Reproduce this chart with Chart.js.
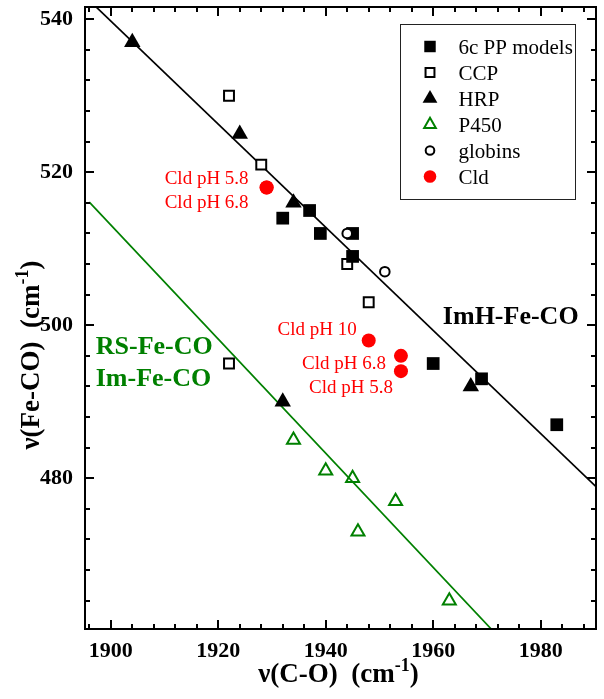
<!DOCTYPE html>
<html>
<head>
<meta charset="utf-8">
<script src="https://cdn.jsdelivr.net/npm/chart.js@4.4.0/dist/chart.umd.min.js"></script>
<style>
  html, body { margin: 0; padding: 0; background: #fff; }
  #wrap { width: 604px; height: 699px; }
</style>
</head>
<body>
<div id="wrap"><canvas id="chart" width="604" height="699"></canvas></div>
<script>
// values
const ppModelsX = [1932, 1937, 1939, 1945, 1945, 1960, 1969, 1983];
const ppModelsY = [514, 515, 512, 512, 509, 495, 493, 487];
const ccpX = [1922, 1928, 1922, 1944, 1948];
const ccpY = [530, 521, 495, 508, 503];
const hrpX = [1904, 1924, 1934, 1932, 1967];
const hrpY = [537, 525, 516, 490, 492];
const p450X = [1934, 1940, 1945, 1953, 1946, 1963];
const p450Y = [485, 481, 480, 477, 473, 464];
const globinsX = [1944, 1951];
const globinsY = [512, 507];
const cldX = [1929, 1929, 1948, 1954, 1954];
const cldY = [518, 518, 498, 496, 494];
const cldLabels = ['Cld pH 5.8', 'Cld pH 6.8', 'Cld pH 10', 'Cld pH 6.8', 'Cld pH 5.8'];

// fitted correlation lines (end points)
const imhLineX = [1895.2, 1990.3];
const imhLineY = [543.0, 478.9];
const rsLineX = [1896, 1972];
const rsLineY = [516.1, 459.4];

const xMajorTicks = [1900, 1920, 1940, 1960, 1980];
const yMajorTicks = [480, 500, 520, 540];
const minorStep = 4;

const SERIF = '"Liberation Serif", "Times New Roman", serif';
const GREEN = '#008000';
const RED = '#ff0000';

const toPoints = (xs, ys) => xs.map((v, i) => ({ x: v, y: ys[i] }));

const stepTicks = (scale, majors) => {
  const ticks = [];
  for (let v = Math.ceil(scale.min / minorStep) * minorStep; v <= scale.max; v += minorStep) {
    ticks.push({ value: v, major: majors.includes(v) });
  }
  scale.ticks = ticks;
};

// fixed axis box sizes, no extra label overhang padding
const fixBox = (scale, size) => {
  if (scale.isHorizontal()) scale.height = size; else scale.width = size;
  scale.paddingTop = scale.paddingBottom = scale.paddingLeft = scale.paddingRight = 0;
};

// frame + inward tick marks on all four sides
const frameTicks = {
  id: 'frameTicks',
  afterDatasetsDraw(chart) {
    const { ctx, chartArea: a, scales: { x, y } } = chart;
    ctx.save();
    ctx.strokeStyle = '#000';
    ctx.lineWidth = 2;
    ctx.strokeRect(a.left, a.top, a.right - a.left, a.bottom - a.top);
    ctx.beginPath();
    x.ticks.forEach(t => {
      const px = Math.round(x.getPixelForValue(t.value));
      const len = xMajorTicks.includes(t.value) ? 9 : 5;
      ctx.moveTo(px, a.bottom); ctx.lineTo(px, a.bottom - len);
      ctx.moveTo(px, a.top); ctx.lineTo(px, a.top + len);
    });
    y.ticks.forEach(t => {
      const py = Math.round(y.getPixelForValue(t.value));
      const len = yMajorTicks.includes(t.value) ? 9 : 5;
      ctx.moveTo(a.left, py); ctx.lineTo(a.left + len, py);
      ctx.moveTo(a.right, py); ctx.lineTo(a.right - len, py);
    });
    ctx.stroke();
    ctx.restore();
  }
};

function drawParts(ctx, parts, cx, baseline) {
  let total = 0;
  parts.forEach(p => { ctx.font = p.font; total += ctx.measureText(p.text).width; });
  let x = cx - total / 2;
  parts.forEach(p => {
    ctx.font = p.font;
    ctx.fillText(p.text, x, baseline + (p.dy || 0));
    x += ctx.measureText(p.text).width;
  });
}

// axis titles with superscript, and text notes
const notes = {
  id: 'notes',
  afterDraw(chart) {
    const { ctx, chartArea: a, scales: { x, y } } = chart;
    const big = 'bold 27px ' + SERIF;
    const sup = 'bold 18px ' + SERIF;
    ctx.save();
    ctx.fillStyle = '#000';
    ctx.textAlign = 'left';
    ctx.textBaseline = 'alphabetic';
    drawParts(ctx, [
      { text: 'ν(C-O)  (cm', font: big },
      { text: '-1', font: sup, dy: -11 },
      { text: ')', font: big }
    ], (a.left + a.right) / 2 - 2, 682);

    ctx.save();
    ctx.translate(38.5, 355);
    ctx.rotate(-Math.PI / 2);
    drawParts(ctx, [
      { text: 'ν(Fe-CO)  (cm', font: big },
      { text: '-1', font: sup, dy: -11 },
      { text: ')', font: big }
    ], 0, 0);
    ctx.restore();

    // line labels
    ctx.font = 'bold 26px ' + SERIF;
    ctx.fillStyle = '#000';
    ctx.fillText('ImH-Fe-CO', x.getPixelForValue(1961.8), y.getPixelForValue(500.2));
    ctx.fillStyle = GREEN;
    ctx.fillText('RS-Fe-CO', x.getPixelForValue(1897.2), y.getPixelForValue(496.3));
    ctx.fillText('Im-Fe-CO', x.getPixelForValue(1897.2), y.getPixelForValue(492.0));

    // Cld point labels, right aligned next to their points
    const offsets = [[-18, -4], [-18, 20], [-12, -6], [-15, 13], [-8, 22]];
    ctx.font = '19px ' + SERIF;
    ctx.fillStyle = RED;
    ctx.textAlign = 'right';
    cldLabels.forEach((label, i) => {
      const px = x.getPixelForValue(cldX[i]);
      const py = y.getPixelForValue(cldY[i]);
      ctx.fillText(label, px + offsets[i][0], py + offsets[i][1]);
    });
    ctx.restore();
  }
};

function drawMarker(ctx, ds, cx, cy, scale) {
  const r = ds.pointRadius * scale;
  ctx.save();
  ctx.fillStyle = ds.pointBackgroundColor;
  ctx.strokeStyle = ds.pointBorderColor;
  ctx.lineWidth = ds.pointBorderWidth;
  ctx.beginPath();
  if (ds.pointStyle === 'rect') {
    const s = Math.SQRT1_2 * r;
    ctx.rect(cx - s, cy - s, 2 * s, 2 * s);
  } else if (ds.pointStyle === 'triangle') {
    let ang = 0;
    ctx.moveTo(cx + Math.sin(ang) * r, cy - Math.cos(ang) * r);
    ang += 2 * Math.PI / 3;
    ctx.lineTo(cx + Math.sin(ang) * r, cy - Math.cos(ang) * r);
    ang += 2 * Math.PI / 3;
    ctx.lineTo(cx + Math.sin(ang) * r, cy - Math.cos(ang) * r);
    ctx.closePath();
  } else {
    ctx.arc(cx, cy, r, 0, Math.PI * 2);
  }
  ctx.fill();
  if (ds.pointBorderWidth > 0) ctx.stroke();
  ctx.restore();
}

// boxed legend in the top right corner
const boxLegend = {
  id: 'boxLegend',
  afterDraw(chart) {
    const { ctx, chartArea: a } = chart;
    const items = chart.data.datasets.filter(d => d.legendRank).sort((p, q) => p.legendRank - q.legendRank);
    const bx = a.right - 195.5, by = a.top + 17.5, bw = 175, bh = 175;
    ctx.save();
    ctx.fillStyle = '#fff';
    ctx.fillRect(bx, by, bw, bh);
    ctx.strokeStyle = '#222';
    ctx.lineWidth = 1;
    ctx.strokeRect(bx, by, bw, bh);
    ctx.font = '21px ' + SERIF;
    ctx.textBaseline = 'alphabetic';
    items.forEach((ds, i) => {
      const rowY = by + 22 + i * 26;
      drawMarker(ctx, ds, bx + 29.5, rowY, 0.9);
      ctx.fillStyle = '#000';
      ctx.fillText(ds.label, bx + 58, rowY + 7);
    });
    ctx.restore();
  }
};

const fitLine = (xs, ys, color, order) => ({
  label: '', data: toPoints(xs, ys), showLine: true, borderColor: color, borderWidth: 1.7,
  pointRadius: 0, clip: 0, order
});

new Chart(document.getElementById('chart'), {
  type: 'scatter',
  data: {
    datasets: [
      fitLine(imhLineX, imhLineY, '#000', 10),
      fitLine(rsLineX, rsLineY, GREEN, 10),
      { label: '6c PP models', legendRank: 1, data: toPoints(ppModelsX, ppModelsY), pointStyle: 'rect',
        pointRadius: 9, pointBackgroundColor: '#000', pointBorderColor: '#000', pointBorderWidth: 0, order: 3 },
      { label: 'CCP', legendRank: 2, data: toPoints(ccpX, ccpY), pointStyle: 'rect',
        pointRadius: 7, pointBackgroundColor: '#fff', pointBorderColor: '#000', pointBorderWidth: 2, order: 5 },
      { label: 'HRP', legendRank: 3, data: toPoints(hrpX, hrpY), pointStyle: 'triangle',
        pointRadius: 9.5, pointBackgroundColor: '#000', pointBorderColor: '#000', pointBorderWidth: 0, order: 4 },
      { label: 'P450', legendRank: 4, data: toPoints(p450X, p450Y), pointStyle: 'triangle',
        pointRadius: 7.5, pointBackgroundColor: 'rgba(255,255,255,0)', pointBorderColor: GREEN, pointBorderWidth: 2, order: 5 },
      { label: 'globins', legendRank: 5, data: toPoints(globinsX, globinsY), pointStyle: 'circle',
        pointRadius: 4.8, pointBackgroundColor: '#fff', pointBorderColor: '#000', pointBorderWidth: 2, order: 2 },
      { label: 'Cld', legendRank: 6, data: toPoints(cldX, cldY), pointStyle: 'circle',
        pointRadius: 7, pointBackgroundColor: RED, pointBorderColor: RED, pointBorderWidth: 0, order: 1 }
    ]
  },
  options: {
    responsive: false,
    animation: false,
    events: [],
    layout: { autoPadding: false, padding: { left: 0, right: 8, top: 7, bottom: 0 } },
    plugins: { legend: { display: false }, tooltip: { enabled: false } },
    scales: {
      x: {
        type: 'linear', min: 1895.2, max: 1990.3,
        grid: { display: false }, border: { display: false },
        afterBuildTicks: s => stepTicks(s, xMajorTicks),
        afterFit: s => fixBox(s, 70),
        ticks: {
          autoSkip: false, maxRotation: 0, padding: 1, color: '#000',
          font: { family: SERIF, size: 22, weight: 'bold' },
          callback: v => xMajorTicks.includes(v) ? String(v) : ''
        }
      },
      y: {
        type: 'linear', min: 460.3, max: 541.6,
        grid: { display: false }, border: { display: false },
        afterBuildTicks: s => stepTicks(s, yMajorTicks),
        afterFit: s => fixBox(s, 85),
        ticks: {
          autoSkip: false, padding: 4, color: '#000',
          font: { family: SERIF, size: 22, weight: 'bold' },
          callback: v => yMajorTicks.includes(v) ? String(v) : ''
        }
      }
    }
  },
  plugins: [frameTicks, notes, boxLegend]
});
</script>
</body>
</html>
